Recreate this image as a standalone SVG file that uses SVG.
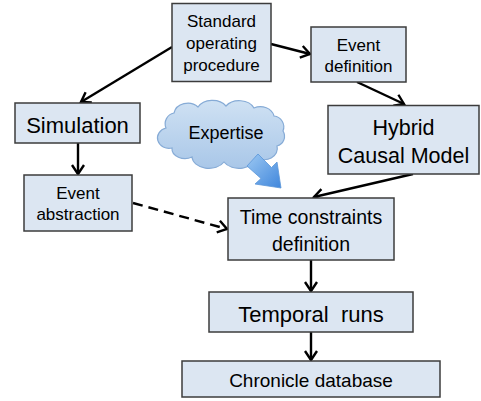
<svg xmlns="http://www.w3.org/2000/svg" width="481" height="401" viewBox="0 0 481 401">
<defs>
<style>
.box{fill:#dce6f2;stroke:#3c3c3c;stroke-width:1.5}
text{font-family:"Liberation Sans",Arial,sans-serif;fill:#000;text-anchor:middle}
.edge{fill:none;stroke:#000;stroke-width:2.4;marker-end:url(#arr)}
.dash{stroke-dasharray:10,6}
</style>
<marker id="arr" markerUnits="userSpaceOnUse" markerWidth="12" markerHeight="12" refX="0" refY="0" orient="auto" overflow="visible">
<path d="M-9,-6 L0,0 L-9,6" fill="none" stroke="#000" stroke-width="2.4"/>
</marker>
<linearGradient id="cloudG" x1="0" y1="0" x2="0" y2="1">
<stop offset="0" stop-color="#cfe1f3"/>
<stop offset="1" stop-color="#a9c7e8"/>
</linearGradient>
<linearGradient id="arrowG" x1="0" y1="0" x2="1" y2="1">
<stop offset="0" stop-color="#9cc8f2"/>
<stop offset="1" stop-color="#3f86dc"/>
</linearGradient>
</defs>

<g id="connectors">
<line class="edge" x1="172" y1="47" x2="81" y2="102"/>
<line class="edge" x1="271" y1="44" x2="310" y2="54"/>
<line class="edge" x1="357" y1="82" x2="404" y2="104"/>
<line class="edge" x1="413" y1="174" x2="314" y2="197"/>
<line class="edge" x1="78" y1="143" x2="78" y2="174"/>
<line class="edge dash" x1="133" y1="203" x2="227" y2="229"/>
<line class="edge" x1="311" y1="260" x2="311" y2="291"/>
<line class="edge" x1="311" y1="332" x2="311" y2="360"/>
</g>

<g id="sop">
<rect class="box" x="172" y="3.5" width="99" height="78"/>
<text x="221.5" y="27" font-size="17">Standard</text>
<text x="221.5" y="49" font-size="17">operating</text>
<text x="221.5" y="71" font-size="17">procedure</text>
</g>

<g id="event-definition">
<rect class="box" x="311" y="27" width="95" height="55"/>
<text x="358.5" y="51" font-size="17">Event</text>
<text x="358.5" y="72" font-size="17">definition</text>
</g>

<g id="simulation">
<rect class="box" x="15" y="103" width="125" height="40"/>
<text x="77.5" y="133" font-size="22">Simulation</text>
</g>

<g id="hybrid">
<rect class="box" x="328" y="105.5" width="151" height="68.5"/>
<text x="403.5" y="135" font-size="21.5">Hybrid</text>
<text x="403.5" y="163" font-size="21.5">Causal Model</text>
</g>

<g id="expertise">
<path d="M166,128 A11,11 0 0 1 174,113 A14,12 0 0 1 198,107 A16,12 0 0 1 226,106 A16,12 0 0 1 254,108 A14,12 0 0 1 274,116 A11,11 0 0 1 283,131 A10,10 0 0 1 277,146 A13,11 0 0 1 256,157 A17,12 0 0 1 224,162 A17,12 0 0 1 192,157 A13,10 0 0 1 172,148 A10,9 0 0 1 166,128 Z" fill="url(#cloudG)" stroke="#86abd6" stroke-width="1.2"/>
<text x="226" y="139" font-size="18">Expertise</text>
</g>

<g id="expertise-arrow">
<polygon points="258,154 271.5,167.5 277,162 281,188 255,184 261,178.5 247,166" fill="url(#arrowG)" stroke="#5a95d8" stroke-width="0.8"/>
</g>

<g id="event-abstraction">
<rect class="box" x="24" y="175" width="108" height="56"/>
<text x="78" y="199" font-size="17">Event</text>
<text x="78" y="220" font-size="17">abstraction</text>
</g>

<g id="time-constraints">
<rect class="box" x="228" y="198" width="166" height="62"/>
<text x="311" y="224" font-size="19.5">Time constraints</text>
<text x="311" y="251" font-size="19.5">definition</text>
</g>

<g id="temporal-runs">
<rect class="box" x="209" y="292" width="204" height="40"/>
<text x="311" y="322" font-size="22" xml:space="preserve" style="white-space:pre">Temporal  runs</text>
</g>

<g id="chronicle">
<rect class="box" x="182" y="361" width="258" height="36"/>
<text x="311" y="387" font-size="19">Chronicle database</text>
</g>
</svg>
